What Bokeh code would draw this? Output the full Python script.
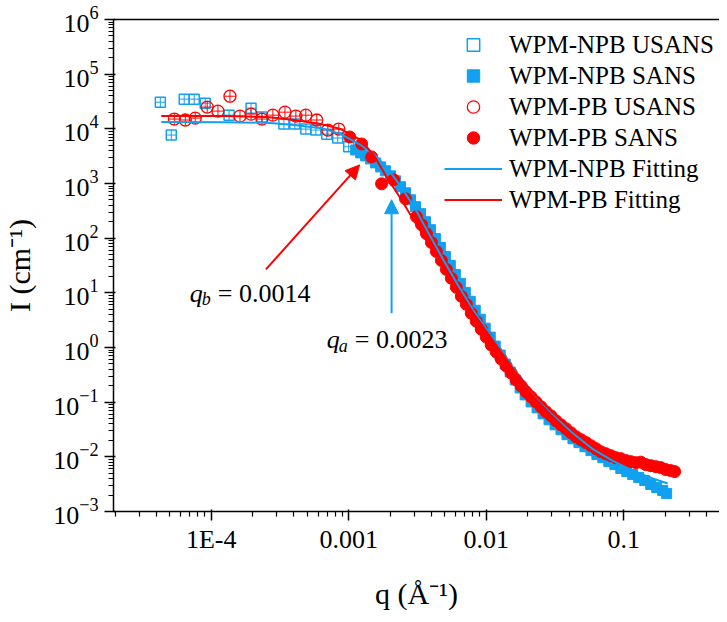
from bokeh.plotting import figure
from bokeh.models import (Legend, LegendItem, FixedTicker, LogAxis, CustomJSTickFormatter,
                          Arrow, NormalHead, Label)
from bokeh.embed import file_html
from bokeh.resources import INLINE

# ---------------- data ----------------
npb_usans_q = [4.27e-5, 5.13e-5, 6.37e-5, 7.53e-5, 9.05e-5, 1.35e-4, 1.95e-4, 2.34e-4,
               3.38e-4, 4.06e-4, 4.88e-4, 5.77e-4, 6.93e-4, 8.32e-4, 1.0e-3]
npb_usans_I = [3.07e4, 7.7e3, 3.49e4, 3.49e4, 2.95e4, 1.78e4, 2.39e4, 1.64e4,
               1.22e4, 1.22e4, 9.9e3, 9.5e3, 8.0e3, 6.8e3, 4.7e3]

pb_usans_q = [5.40e-5, 6.49e-5, 7.66e-5, 9.36e-5, 1.12e-4, 1.37e-4, 1.62e-4, 1.95e-4,
              2.34e-4, 2.81e-4, 3.44e-4, 4.13e-4, 4.88e-4, 5.86e-4, 7.05e-4, 8.47e-4]
pb_usans_I = [1.51e4, 1.45e4, 1.57e4, 2.5e4, 2.11e4, 3.95e4, 1.71e4, 1.86e4,
              1.51e4, 1.78e4, 2.02e4, 1.71e4, 1.78e4, 1.45e4, 9.5e3, 9.9e3]

npb_sans_q = [1.124e-3, 1.222e-3, 1.328e-3, 1.443e-3, 1.569e-3, 1.706e-3, 1.854e-3, 2.015e-3,
              2.191e-3, 2.381e-3, 2.588e-3, 2.813e-3, 3.059e-3, 3.325e-3, 3.614e-3, 3.928e-3,
              4.27e-3, 4.64e-3, 5.05e-3, 5.48e-3, 5.96e-3, 6.48e-3, 7.04e-3, 7.65e-3,
              8.32e-3, 9.05e-3, 9.83e-3, 1.069e-2, 1.162e-2, 1.263e-2, 1.373e-2, 1.493e-2,
              1.623e-2, 1.764e-2, 1.917e-2, 2.119e-2, 2.342e-2, 2.588e-2, 2.861e-2, 3.162e-2,
              3.495e-2, 3.863e-2, 4.27e-2, 4.72e-2, 5.22e-2, 5.77e-2, 6.37e-2, 7.04e-2,
              7.78e-2, 8.61e-2, 9.51e-2, 0.1051, 0.1162, 0.1284, 0.1420, 0.1569,
              0.1734, 0.1917, 0.2049]
npb_sans_I = [4110, 3624, 3195, 2818, 2382, 2014, 1703, 1380,
              1119, 871, 677, 505, 377, 281, 200, 143,
              98.4, 67.5, 46.2, 31.7, 21.7, 14.9, 10.2, 7.00,
              4.80, 3.29, 2.25, 1.55, 1.06, 0.728, 0.499, 0.356,
              0.255, 0.182, 0.136, 0.101, 0.0787, 0.0612, 0.0476, 0.0385,
              0.0313, 0.0254, 0.0214, 0.0182, 0.0153, 0.0130, 0.0110, 0.00966,
              0.00818, 0.00721, 0.00610, 0.00537, 0.00474, 0.00418, 0.00368, 0.00312,
              0.00275, 0.00242, 0.00214]

pb_sans_q = [1.017e-3, 1.242e-3, 1.468e-3, 1.734e-3, 2.119e-3, 2.588e-3, 3.11e-3, 3.381e-3,
             3.674e-3, 3.994e-3, 4.34e-3, 4.72e-3, 5.13e-3, 5.58e-3, 6.06e-3, 6.59e-3,
             7.16e-3, 7.78e-3, 8.46e-3, 9.20e-3, 1.0e-2, 1.087e-2, 1.182e-2, 1.284e-2,
             1.396e-2, 1.518e-2, 1.650e-2, 1.793e-2, 1.949e-2, 2.119e-2, 2.303e-2, 2.504e-2,
             2.722e-2, 2.958e-2, 3.216e-2, 3.495e-2, 3.799e-2, 4.13e-2, 4.49e-2, 4.88e-2,
             5.31e-2, 5.77e-2, 6.27e-2, 6.81e-2, 7.41e-2, 8.05e-2, 8.75e-2, 9.51e-2,
             0.1034, 0.1124, 0.1222, 0.1328, 0.1444, 0.1569, 0.1706, 0.1854,
             0.2015, 0.2191, 0.2342]
pb_sans_I = [7096, 5285, 3062, 988, 1167, 526, 247, 177,
             121, 83.2, 57.0, 39.1, 26.8, 18.4, 12.6, 8.63,
             6.18, 4.24, 3.03, 2.16, 1.55, 1.11, 0.824, 0.615,
             0.458, 0.342, 0.255, 0.198, 0.154, 0.125, 0.101, 0.0821,
             0.0665, 0.0562, 0.0456, 0.0385, 0.0327, 0.0276, 0.0233, 0.0206,
             0.0182, 0.0160, 0.0141, 0.0124, 0.0114, 0.0105, 0.00966, 0.00927,
             0.00853, 0.00817, 0.00783, 0.0080, 0.00721, 0.00690, 0.00662, 0.00635,
             0.00585, 0.00560, 0.00537]

npb_fit_q = [4.34e-5, 1.24e-4, 2.55e-4, 3.99e-4, 6.3e-4, 8.75e-4, 1.22e-3, 1.518e-3,
             1.886e-3, 2.342e-3, 2.958e-3, 3.80e-3, 4.88e-3, 6.27e-3, 8.05e-3, 1.124e-2,
             1.569e-2, 2.191e-2, 3.059e-2, 4.27e-2, 5.96e-2, 8.32e-2, 0.1162, 0.1623, 0.2084]
npb_fit_I = [1.33e4, 1.32e4, 1.29e4, 1.17e4, 1.03e4, 8040, 5070, 3470,
             2010, 946, 390, 125, 40.0, 13.5, 4.80, 1.45,
             0.420, 0.145, 0.0600, 0.0270, 0.0138, 0.00840, 0.00561, 0.00401, 0.00325]

pb_fit_q = [4.34e-5, 1.24e-4, 2.55e-4, 3.99e-4, 6.3e-4, 8.75e-4, 1.22e-3, 1.518e-3,
            1.886e-3, 2.342e-3, 2.958e-3, 3.80e-3, 4.88e-3, 6.27e-3, 8.05e-3, 1.124e-2,
            1.569e-2, 2.191e-2, 3.059e-2, 4.27e-2, 5.96e-2, 8.32e-2, 0.1162, 0.1623, 0.2265]
pb_fit_I = [1.71e4, 1.71e4, 1.64e4, 1.45e4, 1.22e4, 9900, 6250, 3330,
            1320, 573, 218, 79.8, 29.2, 11.1, 4.24, 1.31,
            0.404, 0.148, 0.0638, 0.0300, 0.0167, 0.0110, 0.00817, 0.00662, 0.00560]

x_tick_values = [1e-4, 1e-3, 1e-2, 1e-1]
x_tick_labels = ["1E-4", "0.001", "0.01", "0.1"]
y_tick_exponents = list(range(-3, 7))

series_names = ["WPM-NPB USANS", "WPM-NPB SANS", "WPM-PB USANS", "WPM-PB SANS",
                "WPM-NPB Fitting", "WPM-PB Fitting"]

qb_arrow = dict(q_from=2.5e-4, I_from=26.8, q_to=1.2e-3, I_to=2190)
qa_arrow = dict(q_from=2.05e-3, I_from=4.24, q_to=2.05e-3, I_to=505)
qb_text = dict(q=7.0e-5, I=9.8, sub="b", rest="= 0.0014")
qa_text = dict(q=6.93e-4, I=1.40, sub="a", rest="= 0.0023")

# ---------------- styling ----------------
BLUE = "#12A0F0"
RED = "#FF0000"
FONT = "Liberation Serif"

p = figure(width=719, height=612, x_axis_type="log", y_axis_type="log",
           x_range=(1.95e-5, 0.4963), y_range=(1e-3, 1e6),
           output_backend="svg", toolbar_location=None,
           min_border_left=111, min_border_right=0, min_border_top=19, min_border_bottom=99)
p.outline_line_color = None
p.xgrid.visible = False
p.ygrid.visible = False
p.background_fill_color = "white"
p.border_fill_color = "white"

# axes
xa = p.xaxis[0]
xa.ticker = FixedTicker(ticks=x_tick_values,
                        minor_ticks=[m * 10.0 ** k for k in range(-5, 0) for m in range(2, 10)])
xa.formatter = CustomJSTickFormatter(args=dict(vals=x_tick_values, labs=x_tick_labels), code="""
    for (let i = 0; i < vals.length; i++) {
        if (Math.abs(Math.log10(tick) - Math.log10(vals[i])) < 1e-6) return labs[i];
    }
    return "";
""")
ya = p.yaxis[0]
ya.ticker = FixedTicker(ticks=[10.0 ** k for k in y_tick_exponents],
                        minor_ticks=[m * 10.0 ** k for k in range(-3, 6) for m in range(2, 10)])

for ax in (xa, ya):
    ax.axis_line_color = "black"
    ax.axis_line_width = 1.5
    ax.major_tick_line_color = "black"
    ax.major_tick_line_width = 1.5
    ax.minor_tick_line_color = "black"
    ax.minor_tick_line_width = 1.2
    ax.major_tick_out = 9
    ax.major_tick_in = 2
    ax.minor_tick_out = 5
    ax.minor_tick_in = 0
    ax.major_label_text_font = FONT
    ax.major_label_text_font_size = "26px"
    ax.major_label_text_color = "black"
    ax.axis_label_text_font = FONT
    ax.axis_label_text_font_style = "normal"
    ax.axis_label_text_font_size = "30px"
    ax.axis_label_text_color = "black"

xa.axis_label = "q (Å⁻¹)"
ya.axis_label = "I (cm⁻¹)"
xa.major_label_standoff = 4
ya.major_label_standoff = 6
xa.axis_label_standoff = 20
ya.axis_label_standoff = 14

top = LogAxis(ticker=FixedTicker(ticks=[]), major_label_text_font_size="0px",
              major_tick_line_color=None, minor_tick_line_color=None,
              axis_line_color="black", axis_line_width=1.5)
p.add_layout(top, "above")

# data renderers
r1 = p.scatter(npb_usans_q, npb_usans_I, marker="square", size=10, line_color=BLUE,
               line_width=1.5, fill_color=None)
p.scatter(npb_usans_q, npb_usans_I, marker="cross", size=10, line_color=BLUE, line_width=1)
r2 = p.scatter(npb_sans_q, npb_sans_I, marker="square", size=10, line_color=BLUE,
               fill_color=BLUE)
r3 = p.scatter(pb_usans_q, pb_usans_I, marker="circle", size=12, line_color=RED,
               line_width=1.3, fill_color=None)
p.scatter(pb_usans_q, pb_usans_I, marker="cross", size=12, line_color=RED, line_width=1)
r4 = p.scatter(pb_sans_q, pb_sans_I, marker="circle", size=12, line_color=RED,
               fill_color=RED)
r5 = p.line(npb_fit_q, npb_fit_I, line_color=BLUE, line_width=2)
r6 = p.line(pb_fit_q, pb_fit_I, line_color=RED, line_width=2)

# arrows
p.add_layout(Arrow(end=NormalHead(size=14, fill_color=RED, line_color=RED),
                   x_start=qb_arrow["q_from"], y_start=qb_arrow["I_from"],
                   x_end=qb_arrow["q_to"], y_end=qb_arrow["I_to"],
                   line_color=RED, line_width=2))
p.add_layout(Arrow(end=NormalHead(size=14, fill_color=BLUE, line_color=BLUE),
                   x_start=qa_arrow["q_from"], y_start=qa_arrow["I_from"],
                   x_end=qa_arrow["q_to"], y_end=qa_arrow["I_to"],
                   line_color=BLUE, line_width=2))

# annotation texts
for t in (qb_text, qa_text):
    p.add_layout(Label(x=t["q"], y=t["I"], text="q", text_font=FONT, text_color="black",
                       text_font_style="italic", text_font_size="26px",
                       text_baseline="alphabetic"))
    p.add_layout(Label(x=t["q"], y=t["I"], text=t["sub"], text_font=FONT, text_color="black",
                       text_font_style="italic", text_font_size="18px",
                       text_baseline="alphabetic", x_offset=12, y_offset=-6))
    p.add_layout(Label(x=t["q"], y=t["I"], text=t["rest"], text_font=FONT, text_color="black",
                       text_font_size="26px", text_baseline="alphabetic", x_offset=28))

legend = Legend(items=[LegendItem(label=n, renderers=[r]) for n, r in
                       zip(series_names, [r1, r2, r3, r4, r5, r6])],
                location=(331, 296), border_line_color=None, background_fill_alpha=0,
                label_text_font=FONT, label_text_font_size="25px", label_text_color="black",
                glyph_width=58, glyph_height=31, label_height=31, label_standoff=7,
                spacing=0, padding=0, margin=0)
p.add_layout(legend)

open("out.html", "w").write(file_html(p, INLINE))
